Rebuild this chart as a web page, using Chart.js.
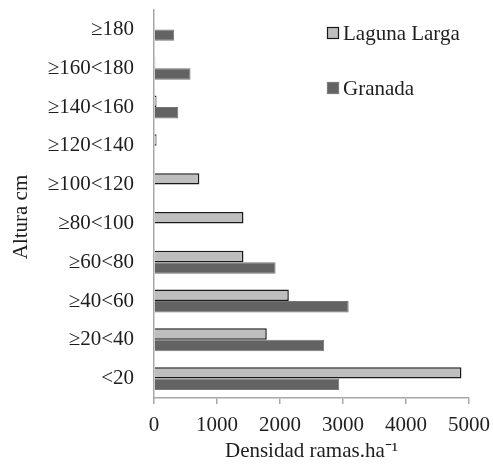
<!DOCTYPE html>
<html>
<head>
<meta charset="utf-8">
<script src="https://cdn.jsdelivr.net/npm/chart.js@4/dist/chart.umd.min.js"></script>
<style>
html,body{margin:0;padding:0;background:#fff;}
#wrap{position:relative;width:493px;height:464px;}
</style>
</head>
<body>
<div id="wrap"><canvas id="c"></canvas></div>
<script>
const categories = ["≥180","≥160<180","≥140<160","≥120<140","≥100<120","≥80<100","≥60<80","≥40<60","≥20<40","<20"];
const lagunaLarga = [0, 20, 40, 40, 720, 1420, 1420, 2140, 1790, 4880];
const granada = [320, 580, 385, 0, 0, 0, 1930, 3090, 2700, 2940];
const seriesNames = ["Laguna Larga", "Granada"];
const xTitle = "Densidad ramas.ha⁻¹";
const yTitle = "Altura cm";

const FONT = "'Liberation Serif', 'Times New Roman', serif";
const FS = 21;
const TXT = '#1e1e1e';
const AXIS = '#a8a8a8';

const legendPlugin = {
  id: 'customLegend',
  afterDraw(chart) {
    const ctx = chart.ctx;
    const items = chart.data.datasets;
    const rows = [{box: 27, base: 40}, {box: 82, base: 95}];
    ctx.save();
    ctx.font = FS + 'px ' + FONT;
    ctx.textBaseline = 'alphabetic';
    ctx.textAlign = 'left';
    items.forEach((ds, i) => {
      const r = rows[i];
      ctx.fillStyle = ds.backgroundColor;
      ctx.fillRect(327, r.box, 12, 12);
      ctx.lineWidth = 1.2;
      ctx.strokeStyle = ds.legendBorder;
      ctx.strokeRect(327.5, r.box + 0.5, 11, 11);
      ctx.fillStyle = TXT;
      ctx.fillText(ds.label, 343, r.base);
    });
    // y-axis title
    ctx.translate(21, 217);
    ctx.rotate(-Math.PI / 2);
    ctx.textAlign = 'center';
    ctx.textBaseline = 'middle';
    ctx.fillText(yTitle, 0, 0);
    ctx.restore();
  }
};

new Chart(document.getElementById('c'), {
  type: 'bar',
  data: {
    labels: categories,
    datasets: [
      {label: seriesNames[0], data: lagunaLarga, backgroundColor: '#bebebe', borderColor: '#1a1a1a', borderWidth: 1.5, borderSkipped: 'start', legendBorder: '#1a1a1a',
       categoryPercentage: 0.59, barPercentage: 1.0},
      {label: seriesNames[1], data: granada, backgroundColor: '#636363', borderColor: '#767676', borderWidth: 1, borderSkipped: 'start', legendBorder: '#7a7a7a',
       categoryPercentage: 0.59, barPercentage: 1.0}
    ]
  },
  options: {
    indexAxis: 'y',
    responsive: true,
    maintainAspectRatio: false,
    animation: false,
    layout: {padding: {top: 10, right: 24, left: 0, bottom: 0}},
    plugins: {legend: {display: false}, tooltip: {enabled: false}},
    scales: {
      x: {
        min: 0, max: 5000,
        ticks: {stepSize: 1000, color: TXT, font: {family: FONT, size: FS}, padding: 9, maxRotation: 0,
                callback: (v) => String(v)},
        grid: {drawOnChartArea: false, drawTicks: true, tickLength: 6, color: AXIS, lineWidth: 1.5},
        border: {display: true, color: AXIS, width: 1.5},
        title: {display: true, text: xTitle, color: TXT, font: {family: FONT, size: FS}, padding: {top: 0, bottom: 0}},
        afterFit(scale) { scale.height = 66; scale.paddingRight = 0; scale.paddingLeft = 0; }
      },
      y: {
        ticks: {color: TXT, font: {family: FONT, size: FS}, padding: 20},
        grid: {drawOnChartArea: false, drawTicks: false},
        border: {display: true, color: AXIS, width: 1.5},
        title: {display: false},
        afterFit(scale) { scale.width = 154; scale.paddingTop = 0; scale.paddingBottom = 0; }
      }
    }
  },
  plugins: [legendPlugin]
});
</script>
</body>
</html>
